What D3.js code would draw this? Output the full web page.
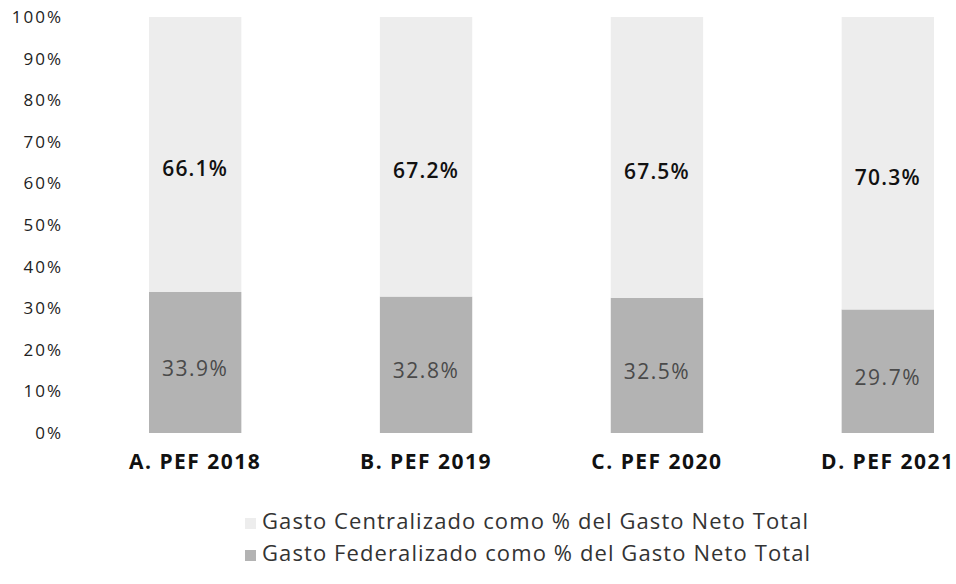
<!DOCTYPE html>
<html>
<head>
<meta charset="utf-8">
<script src="https://cdn.jsdelivr.net/npm/d3@7"></script>
<style>
  body { margin: 0; background: #fff; }
  text { font-family: "Open Sans", sans-serif; }
</style>
</head>
<body>
<div id="chart"></div>
<script>
// data
const categories = ['A. PEF 2018', 'B. PEF 2019', 'C. PEF 2020', 'D. PEF 2021'];
const federalizado = [33.9, 32.8, 32.5, 29.7];
const centralizado = [66.1, 67.2, 67.5, 70.3];
const seriesNames = [
  'Gasto Centralizado como % del Gasto Neto Total',
  'Gasto Federalizado como % del Gasto Neto Total',
];
const yTicks = [0, 10, 20, 30, 40, 50, 60, 70, 80, 90, 100];

const width = 956, height = 584;
const margin = { top: 17, right: 22, bottom: 151, left: 149 };
const colors = { cen: '#ededed', fed: '#b3b3b3' };

const svg = d3.select('#chart').append('svg')
  .attr('width', width)
  .attr('height', height);

const x = d3.scaleBand()
  .domain(categories)
  .range([margin.left, width - margin.right])
  .paddingInner(0.6)
  .paddingOuter(0);

const y = d3.scaleLinear()
  .domain([0, 100])
  .range([height - margin.bottom, margin.top]);

// y axis labels (no line, no ticks)
const yAxis = d3.axisLeft(y)
  .tickValues(yTicks)
  .tickFormat(d => d + '%')
  .tickSize(0)
  .tickPadding(0);

const yg = svg.append('g')
  .attr('transform', 'translate(63,0)')
  .call(yAxis);
yg.select('.domain').remove();
yg.selectAll('text')
  .style('font-size', '17px')
  .style('letter-spacing', '2px')
  .style('fill', '#222');

const rows = categories.map((c, i) => ({ c, fed: federalizado[i], cen: centralizado[i] }));

const bars = svg.append('g').selectAll('g')
  .data(rows)
  .join('g');

// federalizado at bottom
bars.append('rect')
  .attr('x', d => x(d.c))
  .attr('width', x.bandwidth())
  .attr('y', d => y(d.fed))
  .attr('height', d => y(0) - y(d.fed))
  .attr('fill', colors.fed);

// centralizado stacked on top
bars.append('rect')
  .attr('x', d => x(d.c))
  .attr('width', x.bandwidth())
  .attr('y', d => y(d.fed + d.cen))
  .attr('height', d => y(d.fed) - y(d.fed + d.cen))
  .attr('fill', colors.cen);

// value labels
bars.append('text')
  .attr('x', d => x(d.c) + x.bandwidth() / 2)
  .attr('y', d => y(d.fed / 2) + 8)
  .attr('text-anchor', 'middle')
  .attr('dominant-baseline', 'middle')
  .style('font-size', '21px')
  .style('letter-spacing', '1.5px')
  .style('fill', '#4a4a4a')
  .text(d => d.fed.toFixed(1) + '%');

bars.append('text')
  .attr('x', d => x(d.c) + x.bandwidth() / 2)
  .attr('y', d => y(d.fed + d.cen / 2) + 16)
  .attr('text-anchor', 'middle')
  .attr('dominant-baseline', 'middle')
  .style('font-size', '21px')
  .style('font-weight', '600')
  .style('letter-spacing', '1.2px')
  .style('fill', '#111')
  .text(d => d.cen.toFixed(1) + '%');

// category axis
const xAxis = d3.axisBottom(x).tickSize(0).tickPadding(0);
const xg = svg.append('g')
  .attr('transform', `translate(0,${y(0) + 21})`)
  .call(xAxis);
xg.select('.domain').remove();
xg.selectAll('text')
  .style('font-size', '21px')
  .style('font-weight', 'bold')
  .style('letter-spacing', '1.5px')
  .style('fill', '#111');

// legend
const legend = svg.append('g').attr('transform', 'translate(245,523)');
const legendItems = legend.selectAll('g')
  .data(seriesNames)
  .join('g')
  .attr('transform', (d, i) => `translate(0,${i * 32})`);

legendItems.append('rect')
  .attr('x', 0)
  .attr('y', -5)
  .attr('width', 11)
  .attr('height', 11)
  .attr('fill', (d, i) => (i === 0 ? colors.cen : colors.fed));

legendItems.append('text')
  .attr('x', 17)
  .attr('y', 0)
  .attr('dominant-baseline', 'middle')
  .style('font-size', '22px')
  .style('letter-spacing', '1.1px')
  .style('fill', '#333')
  .text(d => d);
</script>
</body>
</html>
